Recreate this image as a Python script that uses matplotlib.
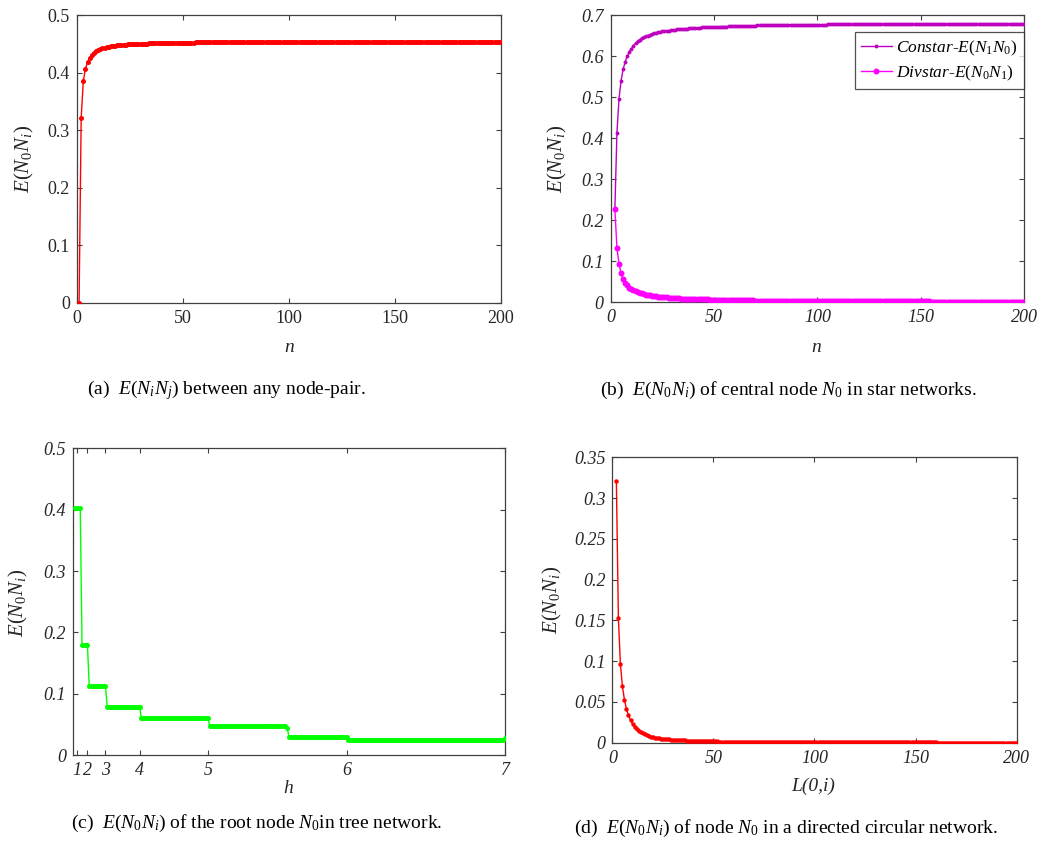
import numpy as np
import matplotlib
matplotlib.use("Agg")
import matplotlib.pyplot as plt
from matplotlib.lines import Line2D
from matplotlib.ticker import FuncFormatter, FixedLocator

plt.rcParams['font.family'] = ['Liberation Serif', 'DejaVu Serif']
plt.rcParams['mathtext.fontset'] = 'custom'
plt.rcParams['mathtext.rm'] = 'Liberation Serif'
plt.rcParams['mathtext.it'] = 'Liberation Serif:italic'
plt.rcParams['mathtext.bf'] = 'Liberation Serif:bold'

# ---------------- data ----------------
# (a) E(Ni Nj) between any node pair, n = 1..200
pair_head = [0.000, 0.322, 0.385, 0.407, 0.418, 0.425, 0.430, 0.434, 0.437, 0.439,
             0.441, 0.442, 0.443, 0.444, 0.445, 0.4457, 0.4463, 0.4468, 0.4473, 0.4477,
             0.4481, 0.4485, 0.4488, 0.4491, 0.4495]
pair_tail_vals = [0.4500, 0.4505, 0.4510, 0.4515, 0.4520, 0.4525, 0.4530, 0.4535, 0.4538]
pair_tail_counts = [4, 4, 5, 7, 10, 16, 29, 60, 40]

# (b) star networks, n = 2..200
const_head = [0.227, 0.413, 0.496, 0.540, 0.568, 0.586, 0.600, 0.610, 0.618, 0.625,
              0.631, 0.636, 0.640, 0.643, 0.646, 0.648, 0.650, 0.652, 0.654, 0.656,
              0.657, 0.658, 0.659, 0.660, 0.661, 0.662, 0.662, 0.663, 0.664, 0.664]
const_tail_vals = [0.6650, 0.6660, 0.6670, 0.6675, 0.6680, 0.6690, 0.6700, 0.6705, 0.6710,
                   0.6715, 0.6720, 0.6725, 0.6730, 0.6735, 0.6740, 0.6745, 0.6750, 0.6755,
                   0.6760, 0.6765, 0.6770, 0.6775, 0.6780, 0.6785, 0.6790]
const_tail_counts = [2, 2, 2, 1, 2, 3, 3, 2, 3, 2, 3, 3, 3, 4, 4, 5, 6, 6, 8, 9, 11, 14,
                     17, 23, 31]

div_head = [0.227, 0.133, 0.093, 0.071, 0.056, 0.047, 0.041, 0.036, 0.032, 0.029,
            0.027, 0.025, 0.023, 0.0215, 0.020, 0.019, 0.018, 0.017, 0.016, 0.0152,
            0.0145, 0.0139, 0.0133, 0.0128]
div_tail_vals = [0.0120, 0.0115, 0.0110, 0.0105, 0.0098, 0.0093, 0.0088, 0.0083, 0.0079,
                 0.0074, 0.0069, 0.0064, 0.0059, 0.0053, 0.0048, 0.0043, 0.0038, 0.0033,
                 0.0028, 0.0023, 0.0018]
div_tail_counts = [2, 1, 1, 2, 2, 2, 2, 2, 2, 3, 3, 4, 5, 6, 7, 9, 11, 15, 20, 30, 46]

# (c) tree network: node-index ranges per level and their values
tree_start = [1, 5, 9, 19, 38, 76, 120, 153]
tree_end = [4, 8, 18, 37, 75, 119, 152, 240]
tree_val = [0.402, 0.180, 0.112, 0.0787, 0.0597, 0.047, 0.0288, 0.024]
tree_last_val = [0.402, 0.180, 0.112, 0.0787, 0.0597, 0.044, 0.0288, 0.027]
tree_tick_pos = [2, 8, 18, 37, 75, 152, 240]
tree_tick_lab = ['1', '2', '3', '4', '5', '6', '7']

# (d) directed circular network, L(0,i) = 2..200
circ_head = [0.321, 0.1525, 0.0965, 0.069, 0.0527, 0.0413, 0.0336, 0.0274, 0.0230, 0.0196,
             0.0169, 0.0147, 0.0130, 0.0115, 0.0103, 0.0093, 0.0084, 0.0076, 0.0070, 0.0064,
             0.0059, 0.0055, 0.0051, 0.0048, 0.0045, 0.0042, 0.0040, 0.0037, 0.0035]
circ_tail_vals = [0.0032, 0.0028, 0.0024, 0.0020, 0.0016, 0.0013, 0.0010, 0.0007, 0.0005,
                  0.0003, 0.0002]
circ_tail_counts = [3, 3, 4, 5, 7, 8, 12, 18, 30, 40, 40]


def assemble(head, vals, counts):
    out = list(head)
    for v, c in zip(vals, counts):
        out += [v] * c
    return np.array(out)


y_pair = assemble(pair_head, pair_tail_vals, pair_tail_counts)
x_pair = np.arange(1, 1 + len(y_pair))
y_const = assemble(const_head, const_tail_vals, const_tail_counts)
x_const = np.arange(2, 2 + len(y_const))
y_div = assemble(div_head, div_tail_vals, div_tail_counts)
x_div = np.arange(2, 2 + len(y_div))
y_circ = assemble(circ_head, circ_tail_vals, circ_tail_counts)
x_circ = np.arange(2, 2 + len(y_circ))

x_tree, y_tree = [], []
for s, e, v, lv in zip(tree_start, tree_end, tree_val, tree_last_val):
    xs = list(range(s, e + 1))
    ys = [v] * len(xs)
    ys[-1] = lv
    x_tree += xs
    y_tree += ys

# ---------------- figure ----------------
fig = plt.figure(figsize=(10.57, 8.44), dpi=100)
ax_a = fig.add_axes([0.0728, 0.641, 0.4011, 0.3412])
ax_b = fig.add_axes([0.5778, 0.6418, 0.391, 0.3404])
ax_c = fig.add_axes([0.0691, 0.1054, 0.4087, 0.3634])
ax_d = fig.add_axes([0.5793, 0.12, 0.3825, 0.338])

axcol = '#404040'
txtcol = '#262626'
TICK_FS = 13
LAB_FS = 15
fmt = FuncFormatter(lambda v, p: '%g' % round(v, 4))
ylab = r'$E(N_{\mathit{0}}N_{\mathit{i}})$'


def series(ax, x, y, color, ms):
    ax.plot(x, y, color=color, lw=1.0, zorder=2, snap=False)
    ax.scatter(x, y, s=ms ** 2, color=color, linewidths=0, zorder=3, snap=False)


def style(ax, italic):
    for sp in ax.spines.values():
        sp.set_color(axcol)
        sp.set_linewidth(0.9)
    ax.tick_params(direction='in', length=3.5, width=0.8, colors=axcol,
                   top=True, right=True, labelsize=TICK_FS, pad=5)
    ax.xaxis.set_major_formatter(fmt)
    ax.yaxis.set_major_formatter(fmt)
    for lab in ax.get_xticklabels() + ax.get_yticklabels():
        lab.set_color(txtcol)
        if italic:
            lab.set_fontstyle('italic')


def labels(ax, xl, xpos, ypos):
    ax.set_xlabel(xl, fontstyle='italic', fontsize=14, color=txtcol)
    ax.set_ylabel(ylab, fontsize=LAB_FS, color=txtcol)
    ax.xaxis.set_label_coords(*xpos)
    ax.xaxis.label.set_va('center')
    ax.yaxis.set_label_coords(*ypos)
    ax.yaxis.label.set_va('center')


# (a)
series(ax_a, x_pair, y_pair, '#ff0000', 3.6)
ax_a.set_xlim(0, 200)
ax_a.set_ylim(0, 0.5)
ax_a.set_xticks([0, 50, 100, 150, 200])
ax_a.set_yticks([0, 0.1, 0.2, 0.3, 0.4, 0.5])
style(ax_a, False)
labels(ax_a, 'n', (0.5, -0.153), (-0.123, 0.5))

# (b)
series(ax_b, x_const, y_const, '#bf00bf', 2.8)
series(ax_b, x_div, y_div, '#ff00ff', 4.3)
ax_b.set_xlim(0, 200)
ax_b.set_ylim(0, 0.7)
ax_b.set_xticks([0, 50, 100, 150, 200])
ax_b.set_yticks([0, 0.1, 0.2, 0.3, 0.4, 0.5, 0.6, 0.7])
style(ax_b, True)
labels(ax_b, 'n', (0.498, -0.156), (-0.128, 0.5))
handles = [Line2D([], [], color='#bf00bf', lw=1.0, marker='o', ms=2.8, mew=0),
           Line2D([], [], color='#ff00ff', lw=1.0, marker='o', ms=4.3, mew=0)]
names = [r'Constar-$E(N_{\mathit{1}}N_{\mathit{0}})$',
         r'Divstar-$E(N_{\mathit{0}}N_{\mathit{1}})$']
leg = ax_b.legend(handles, names, loc='upper right', bbox_to_anchor=(0.999, 0.94),
                  borderaxespad=0,
                  prop={'family': 'Liberation Serif', 'style': 'italic', 'size': 12.5},
                  frameon=True, fancybox=False, handlelength=1.8, handletextpad=0.25,
                  borderpad=0.35, labelspacing=0.35)
leg.get_frame().set_edgecolor(txtcol)
leg.get_frame().set_linewidth(0.9)

# (c)
series(ax_c, x_tree, y_tree, '#00ff00', 3.6)
ax_c.set_xlim(0, 240)
ax_c.set_ylim(0, 0.5)
ax_c.set_yticks([0, 0.1, 0.2, 0.3, 0.4, 0.5])
ax_c.xaxis.set_major_locator(FixedLocator(tree_tick_pos))
style(ax_c, True)
ax_c.set_xticklabels(tree_tick_lab, fontstyle='italic', color=txtcol, fontsize=TICK_FS)
labels(ax_c, 'h', (0.498, -0.108), (-0.127, 0.496))

# (d)
series(ax_d, x_circ, y_circ, '#ff0000', 3.2)
ax_d.set_xlim(0, 200)
ax_d.set_ylim(0, 0.35)
ax_d.set_xticks([0, 50, 100, 150, 200])
ax_d.set_yticks([0, 0.05, 0.1, 0.15, 0.2, 0.25, 0.3, 0.35])
style(ax_d, True)
labels(ax_d, 'L(0,i)', (0.496, -0.154), (-0.147, 0.5))

# captions
cap_kw = dict(ha='center', va='center', fontsize=14, color='black')
fig.text(226 / 1057, 1 - 390 / 844, r'(a)  $E(N_iN_j)$ between any node-pair.', **cap_kw)
fig.text(788 / 1057, 1 - 390 / 844, r'(b)  $E(N_0N_i)$ of central node $N_0$ in star networks.', **cap_kw)
fig.text(257 / 1057, 1 - 823 / 844, r'(c)  $E(N_0N_i)$ of the root node $N_0$in tree network.', **cap_kw)
fig.text(786 / 1057, 1 - 828 / 844, r'(d)  $E(N_0N_i)$ of node $N_0$ in a directed circular network.', **cap_kw)

fig.savefig('out.png', dpi=100)
